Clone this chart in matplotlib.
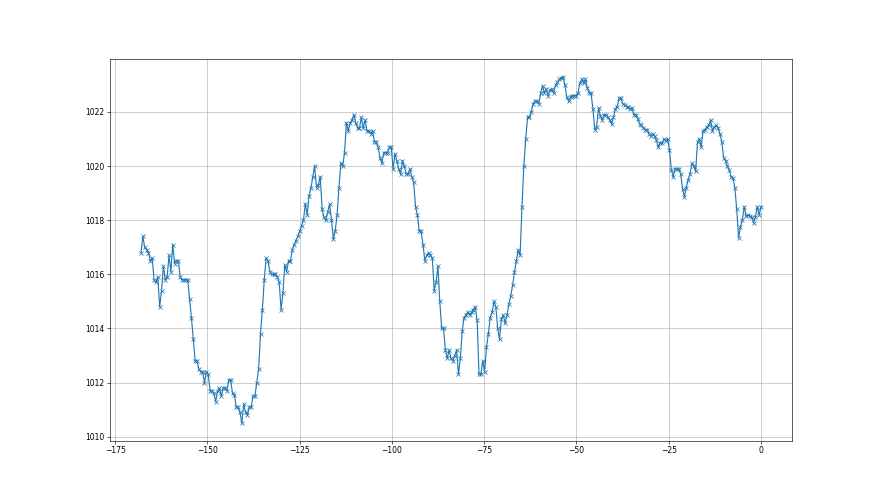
import numpy as np
import matplotlib
matplotlib.use("Agg")
import matplotlib.pyplot as plt

seg_a = [1016.8, 1017.4, 1017.0, 1016.9, 1016.8, 1016.5, 1016.6, 1015.8, 1015.7, 1015.9,
         1014.8, 1015.4, 1016.3, 1015.8, 1015.9, 1016.7, 1016.1, 1017.1, 1016.4, 1016.5,
         1016.5, 1015.9, 1015.8, 1015.8, 1015.8, 1015.8, 1015.1, 1014.4, 1013.6, 1012.8,
         1012.8, 1012.5, 1012.4, 1012.4, 1012.0, 1012.4, 1012.3, 1011.7, 1011.7, 1011.6]
seg_b = [1011.3, 1011.7, 1011.8, 1011.5, 1011.8, 1011.8, 1011.7, 1012.1, 1012.1, 1011.6,
         1011.55, 1011.1, 1011.1, 1010.9, 1010.5, 1011.2, 1010.9, 1010.8, 1011.1, 1011.1,
         1011.5, 1011.5, 1012.0, 1012.5, 1013.8, 1014.7, 1015.8, 1016.6, 1016.5, 1016.1,
         1016.0, 1016.0, 1016.0, 1015.9, 1015.7, 1014.7, 1015.3, 1016.35, 1016.1, 1016.5,
         1016.5, 1016.9, 1017.1, 1017.25, 1017.4, 1017.6, 1017.8, 1018.0, 1018.6, 1018.2,
         1018.9, 1019.2, 1019.6, 1020.0, 1019.2]
seg_c = [1019.3, 1019.6, 1018.4, 1018.1, 1018.0, 1018.3, 1018.6, 1018.0, 1017.3, 1017.6,
         1018.2, 1019.2, 1020.1, 1020.0, 1020.5, 1021.6, 1021.3, 1021.6, 1021.7, 1021.9,
         1021.6, 1021.4, 1021.4, 1021.8, 1021.4, 1021.7, 1021.3, 1021.3, 1021.2, 1021.3,
         1020.9, 1020.9, 1020.7, 1020.3, 1020.1, 1020.5, 1020.5, 1020.5, 1020.7, 1020.7,
         1019.9, 1020.45, 1020.2, 1019.9, 1019.7, 1020.2, 1020.0, 1019.7, 1019.7, 1019.9,
         1019.6, 1019.4, 1018.5, 1018.2]
seg_d = [1017.6, 1017.6, 1017.1, 1016.5, 1016.7, 1016.8, 1016.7, 1016.6, 1015.4, 1015.7,
         1016.3, 1015.0, 1014.0, 1014.0, 1013.2, 1012.9, 1013.2, 1012.9, 1012.8, 1013.0,
         1013.2, 1012.3, 1012.9, 1013.9, 1014.4, 1014.5, 1014.6, 1014.5, 1014.6, 1014.7,
         1014.8, 1014.3, 1012.3, 1012.3, 1012.8, 1012.4, 1013.3, 1013.8, 1014.4, 1014.6,
         1015.0, 1014.8, 1014.0, 1013.6, 1014.35, 1014.5, 1014.2, 1014.5, 1014.9, 1015.2,
         1015.6, 1016.1, 1016.5, 1016.9, 1016.7, 1018.5, 1020.0]
seg_e = [1021.0, 1021.8, 1021.8, 1022.0, 1022.3, 1022.4, 1022.4, 1022.3, 1022.7, 1022.96,
         1022.7, 1022.85, 1022.6, 1022.8, 1022.85, 1022.7, 1023.0, 1023.1, 1023.2, 1023.25,
         1023.3, 1023.0, 1022.55, 1022.4, 1022.55, 1022.6, 1022.6, 1022.6, 1022.7, 1023.05,
         1023.2, 1023.05, 1023.2, 1022.9, 1022.7, 1022.7, 1022.1, 1021.35, 1021.45, 1022.15,
         1021.85, 1021.7, 1021.9, 1021.9, 1021.8, 1021.7, 1021.55, 1021.8, 1022.1, 1022.2,
         1022.5, 1022.5, 1022.3, 1022.25, 1022.2, 1022.2, 1022.1, 1022.15, 1021.9, 1021.9,
         1021.75, 1021.55]
seg_f = [1021.5, 1021.4, 1021.35, 1021.35, 1021.2, 1021.1, 1021.2, 1021.1, 1020.97, 1020.7,
         1020.87, 1020.84, 1021.0, 1020.94, 1021.0, 1020.6, 1019.86, 1019.6, 1019.9, 1019.9,
         1019.9, 1019.7, 1019.15, 1018.87, 1019.2, 1019.5, 1019.7, 1020.1, 1020.0, 1019.8,
         1020.9, 1021.0, 1020.7, 1021.3, 1021.35, 1021.45, 1021.5, 1021.7, 1021.3, 1021.45,
         1021.5, 1021.4, 1021.2, 1020.9, 1020.3, 1020.2, 1020.0, 1019.85, 1019.6, 1019.55,
         1019.2, 1018.4, 1017.35, 1017.75, 1018.0, 1018.5, 1018.15, 1018.2, 1018.15, 1018.1,
         1017.9, 1018.1, 1018.5, 1018.2, 1018.5]

pressure = seg_a + seg_b + seg_c + seg_d + seg_e + seg_f
hours_start = -168
hours_end = 0
hours = np.linspace(hours_start, hours_end, len(pressure))

fig = plt.figure(figsize=(16, 9), dpi=55)
ax = fig.add_subplot(111)
ax.plot(hours, pressure, marker='x', color='#1f77b4')
ax.grid(True)
fig.savefig("out.png", dpi=55)
